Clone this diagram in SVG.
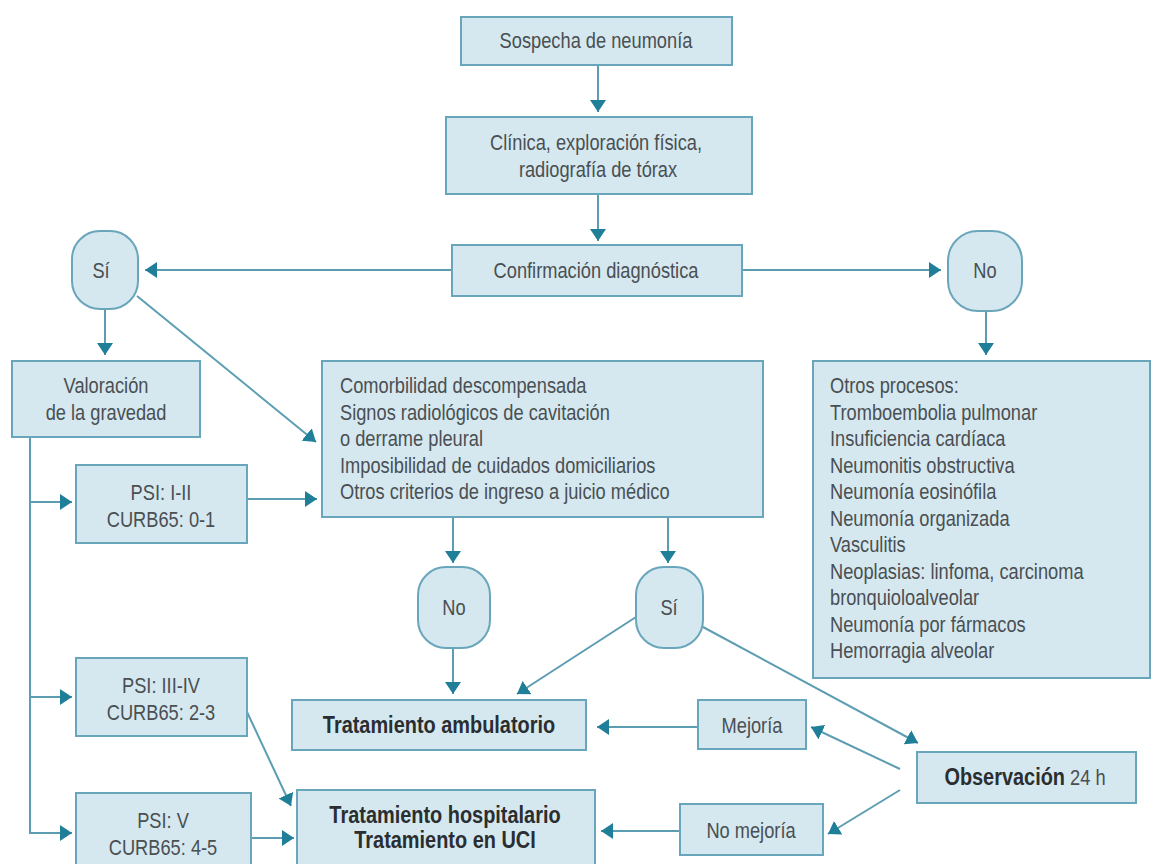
<svg xmlns="http://www.w3.org/2000/svg" width="1154" height="864" viewBox="0 0 1154 864">
<style>
.box{fill:#d5e8f0;stroke:#6aa6bb;stroke-width:2}
.t{font-family:"Liberation Sans",Arial,sans-serif;font-size:22px;fill:#4a4f52}
.c{text-anchor:middle}
.b{font-weight:bold;fill:#2a2e31;font-size:24px}
.ln{stroke:#5c9db2;stroke-width:2;fill:none}
</style>
<defs>
<marker id="ah" markerUnits="userSpaceOnUse" viewBox="0 0 12 16" markerWidth="12" markerHeight="16" refX="12" refY="8" orient="auto">
<path d="M0,0 L12,8 L0,16 z" fill="#1f7e98"/>
</marker>
</defs>
<rect width="1154" height="864" fill="#ffffff"/>
<g id="connectors">
<line class="ln" x1="598" y1="65" x2="598" y2="112" marker-end="url(#ah)"/>
<line class="ln" x1="598" y1="194" x2="598" y2="241" marker-end="url(#ah)"/>
<line class="ln" x1="452" y1="270" x2="145" y2="270" marker-end="url(#ah)"/>
<line class="ln" x1="742" y1="270" x2="941" y2="270" marker-end="url(#ah)"/>
<line class="ln" x1="105" y1="309" x2="105" y2="355" marker-end="url(#ah)"/>
<line class="ln" x1="137" y1="296" x2="316" y2="442" marker-end="url(#ah)"/>
<line class="ln" x1="986" y1="311" x2="986" y2="355" marker-end="url(#ah)"/>
<polyline class="ln" points="30,437 30,833"/>
<line class="ln" x1="30" y1="502" x2="72" y2="502" marker-end="url(#ah)"/>
<line class="ln" x1="30" y1="697" x2="72" y2="697" marker-end="url(#ah)"/>
<line class="ln" x1="29" y1="833" x2="72" y2="833" marker-end="url(#ah)"/>
<line class="ln" x1="247" y1="499" x2="317" y2="499" marker-end="url(#ah)"/>
<line class="ln" x1="453" y1="517" x2="453" y2="563" marker-end="url(#ah)"/>
<line class="ln" x1="668" y1="517" x2="668" y2="563" marker-end="url(#ah)"/>
<line class="ln" x1="453" y1="648" x2="453" y2="694" marker-end="url(#ah)"/>
<line class="ln" x1="636" y1="617" x2="517" y2="694" marker-end="url(#ah)"/>
<line class="ln" x1="703" y1="627" x2="918" y2="743" marker-end="url(#ah)"/>
<line class="ln" x1="900" y1="769" x2="811" y2="727" marker-end="url(#ah)"/>
<line class="ln" x1="900" y1="790" x2="828" y2="834" marker-end="url(#ah)"/>
<line class="ln" x1="698" y1="727" x2="597" y2="727" marker-end="url(#ah)"/>
<line class="ln" x1="680" y1="831" x2="601" y2="831" marker-end="url(#ah)"/>
<line class="ln" x1="247" y1="712" x2="291" y2="806" marker-end="url(#ah)"/>
<line class="ln" x1="251" y1="838" x2="294" y2="838" marker-end="url(#ah)"/>
</g>
<g id="sospecha"><rect class="box" x="461" y="17" width="271" height="48"/><text class="t c" transform="translate(596 48) scale(.83 1)">Sospecha de neumonía</text></g>
<g id="clinica"><rect class="box" x="446" y="117" width="306" height="77"/><text class="t c" transform="translate(596 150) scale(.83 1)">Clínica, exploración física,</text><text class="t c" transform="translate(598 177) scale(.83 1)">radiografía de tórax</text></g>
<g id="confirmacion"><rect class="box" x="452" y="245" width="290" height="51"/><text class="t c" transform="translate(596 278) scale(.83 1)">Confirmación diagnóstica</text></g>
<g id="si1"><rect class="box" x="72" y="231" width="66" height="78" rx="28"/><text class="t c" transform="translate(101 278) scale(.83 1)">Sí</text></g>
<g id="no1"><rect class="box" x="948" y="231" width="74" height="80" rx="30"/><text class="t c" transform="translate(985 278) scale(.83 1)">No</text></g>
<g id="valoracion"><rect class="box" x="12" y="361" width="188" height="76"/><text class="t c" transform="translate(106 393) scale(.83 1)">Valoración</text><text class="t c" transform="translate(106 420) scale(.83 1)">de la gravedad</text></g>
<g id="criterios"><rect class="box" x="322" y="361" width="441" height="156"/>
<text class="t" transform="translate(340 393) scale(.83 1)">Comorbilidad descompensada</text>
<text class="t" transform="translate(340 420) scale(.83 1)">Signos radiológicos de cavitación</text>
<text class="t" transform="translate(340 446) scale(.83 1)">o derrame pleural</text>
<text class="t" transform="translate(340 473) scale(.83 1)">Imposibilidad de cuidados domiciliarios</text>
<text class="t" transform="translate(340 499) scale(.83 1)">Otros criterios de ingreso a juicio médico</text></g>
<g id="otros"><rect class="box" x="813" y="361" width="337" height="317"/>
<text class="t" transform="translate(830 393) scale(.83 1)">Otros procesos:</text>
<text class="t" transform="translate(830 420) scale(.83 1)">Tromboembolia pulmonar</text>
<text class="t" transform="translate(830 446) scale(.83 1)">Insuficiencia cardíaca</text>
<text class="t" transform="translate(830 473) scale(.83 1)">Neumonitis obstructiva</text>
<text class="t" transform="translate(830 499) scale(.83 1)">Neumonía eosinófila</text>
<text class="t" transform="translate(830 526) scale(.83 1)">Neumonía organizada</text>
<text class="t" transform="translate(830 552) scale(.83 1)">Vasculitis</text>
<text class="t" transform="translate(830 579) scale(.83 1)">Neoplasias: linfoma, carcinoma</text>
<text class="t" transform="translate(830 605) scale(.83 1)">bronquioloalveolar</text>
<text class="t" transform="translate(830 632) scale(.83 1)">Neumonía por fármacos</text>
<text class="t" transform="translate(830 658) scale(.83 1)">Hemorragia alveolar</text></g>
<g id="psi12"><rect class="box" x="76" y="465" width="171" height="78"/><text class="t c" transform="translate(161 500) scale(.83 1)">PSI: I-II</text><text class="t c" transform="translate(161 527) scale(.83 1)">CURB65: 0-1</text></g>
<g id="psi34"><rect class="box" x="76" y="658" width="171" height="78"/><text class="t c" transform="translate(161 693) scale(.83 1)">PSI: III-IV</text><text class="t c" transform="translate(161 720) scale(.83 1)">CURB65: 2-3</text></g>
<g id="psi5"><rect class="box" x="76" y="793" width="175" height="80"/><text class="t c" transform="translate(163 828) scale(.83 1)">PSI: V</text><text class="t c" transform="translate(163 855) scale(.83 1)">CURB65: 4-5</text></g>
<g id="no2"><rect class="box" x="418" y="567" width="72" height="81" rx="28"/><text class="t c" transform="translate(454 615) scale(.83 1)">No</text></g>
<g id="si2"><rect class="box" x="636" y="567" width="67" height="81" rx="28"/><text class="t c" transform="translate(669 615) scale(.83 1)">Sí</text></g>
<g id="ambulatorio"><rect class="box" x="292" y="700" width="294" height="50"/><text class="t c b" transform="translate(439 733) scale(.83 1)">Tratamiento ambulatorio</text></g>
<g id="hospitalario"><rect class="box" x="297" y="790" width="298" height="84"/><text class="t c b" transform="translate(445 823) scale(.83 1)">Tratamiento hospitalario</text><text class="t c b" transform="translate(445 848) scale(.83 1)">Tratamiento en UCI</text></g>
<g id="mejoria"><rect class="box" x="698" y="700" width="108" height="49"/><text class="t c" transform="translate(752 733) scale(.83 1)">Mejoría</text></g>
<g id="nomejoria"><rect class="box" x="680" y="804" width="143" height="51"/><text class="t c" transform="translate(751 838) scale(.83 1)">No mejoría</text></g>
<g id="observacion"><rect class="box" x="917" y="752" width="219" height="51"/><text class="t c" transform="translate(1025 785) scale(.83 1)"><tspan class="b">Observación</tspan> 24 h</text></g>
</svg>
